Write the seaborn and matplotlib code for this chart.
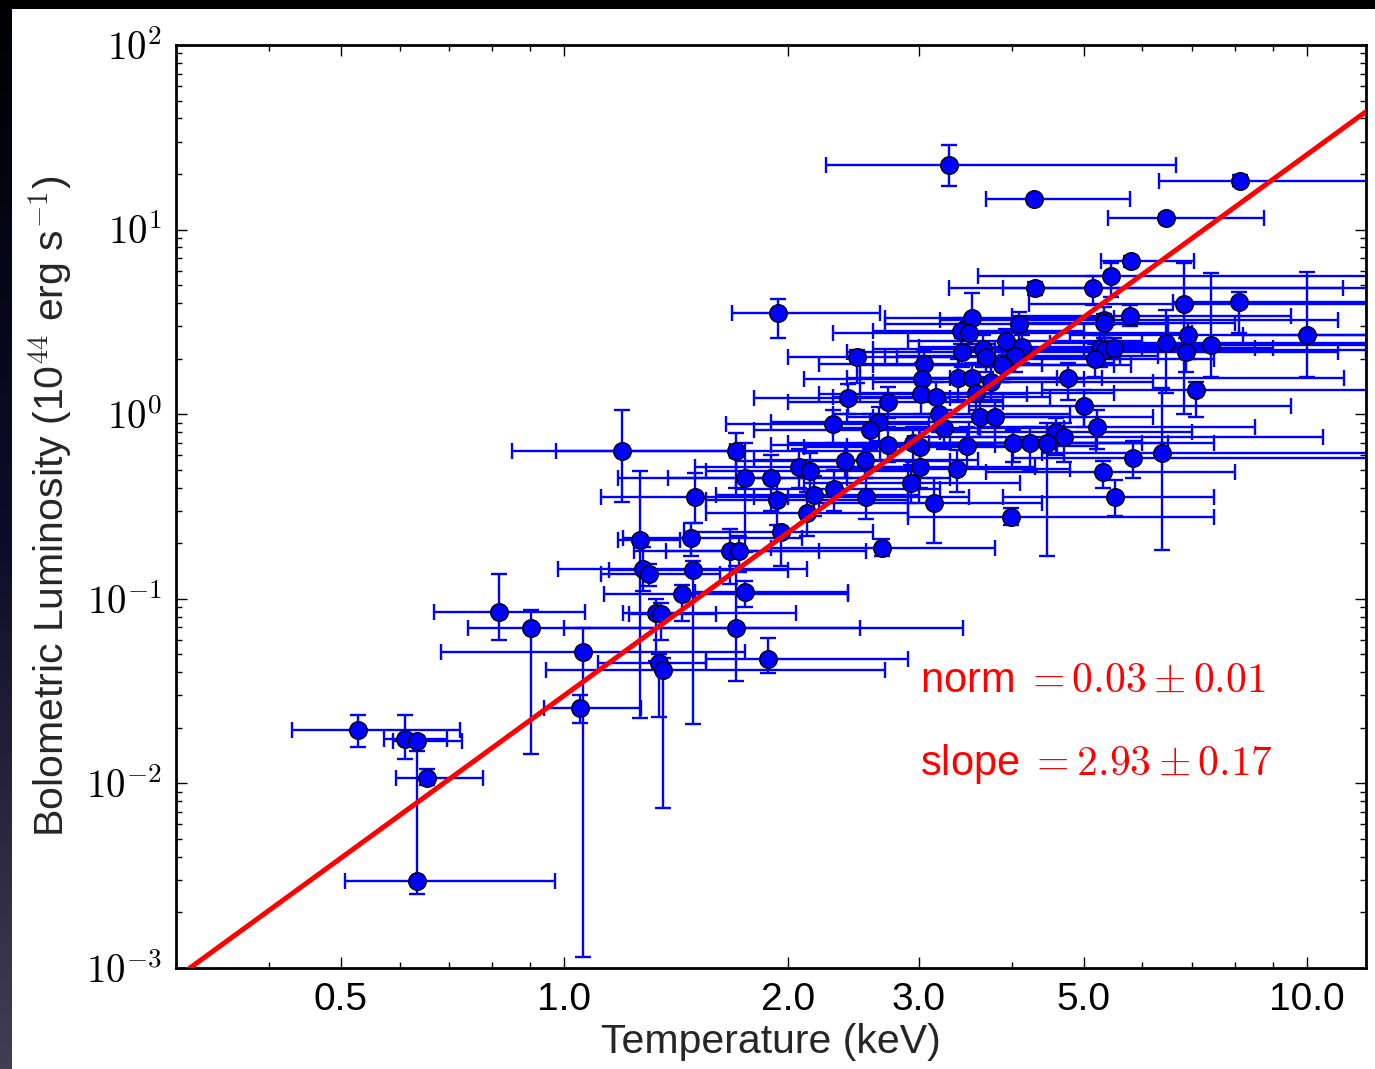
import numpy as np
import pandas as pd
import matplotlib
matplotlib.use("Agg")
import matplotlib.pyplot as plt
import seaborn as sns
from matplotlib.patches import Rectangle
from matplotlib.ticker import FixedLocator, FixedFormatter, NullFormatter, LogLocator

# ---------------- data ----------------
# temperature (keV) with lower / upper bounds
T = [0.528, 0.611, 0.634, 0.653, 0.634, 0.816, 0.901, 1.058, 1.048,
     1.194, 1.703, 1.265, 1.48, 1.50, 1.275, 1.30, 1.49, 1.44, 1.33, 1.35, 1.34, 1.357,
     1.75, 1.90, 1.93, 1.96, 1.67, 1.72, 1.75, 1.70, 1.88, 1.94,
     3.29, 8.11, 4.29, 6.45, 5.80, 5.44, 4.30, 5.15, 6.83, 8.10, 3.54, 5.78, 5.32, 5.33,
     4.09, 3.42, 3.51, 3.93, 4.13, 4.04, 3.89, 6.45, 6.92, 6.86, 7.43, 10.0, 5.26, 5.35,
     5.50, 5.18, 4.77, 7.09, 5.00, 5.22, 4.59, 4.71, 4.02, 4.23, 4.47, 5.82, 6.38, 5.31,
     5.51, 3.99,
     2.48, 3.43, 3.66, 3.70, 3.88, 3.05, 3.03, 3.39, 3.54, 3.75, 3.02, 3.16, 2.41, 2.73,
     3.19, 3.58, 3.63, 3.80, 3.24, 2.30, 2.65, 2.58, 2.73, 2.95, 3.01, 3.48, 2.39, 2.54,
     2.07, 2.14, 2.17, 2.31, 2.55, 2.93, 3.01, 3.38, 3.14, 2.12, 2.68]
T_lo = [0.43, 0.572, 0.588, 0.594, 0.506, 0.667, 0.742, 0.683, 0.938,
        0.849, 0.975, 1.18, 1.20, 1.12, 0.98, 1.12, 1.15, 1.13, 1.20, 1.22, 1.11, 0.945,
        1.18, 1.38, 1.55, 1.45, 1.24, 1.37, 1.50, 1.00, 1.55, 1.68,
        2.25, 6.31, 3.69, 5.40, 5.27, 3.60, 3.29, 3.89, 4.22, 6.60, 2.70, 4.00, 3.20, 4.20,
        2.70, 2.60, 2.30, 2.90, 3.00, 2.80, 2.60, 4.50, 4.80, 5.00, 5.50, 8.20, 3.50, 3.80,
        4.00, 3.60, 3.30, 4.40, 3.50, 3.60, 3.20, 3.00, 2.90, 3.10, 3.30, 4.00, 4.40, 3.70,
        3.90, 2.90,
        2.00, 2.40, 2.60, 2.70, 2.50, 2.20, 2.10, 2.40, 2.50, 2.60, 2.20, 2.30, 1.80, 2.00,
        2.30, 2.50, 2.40, 2.60, 2.30, 1.65, 1.90, 1.80, 1.90, 2.00, 2.10, 2.40, 1.70, 1.80,
        1.50, 1.55, 1.60, 1.70, 1.80, 2.10, 2.10, 2.40, 2.20, 1.55, 1.90]
T_hi = [0.724, 0.695, 0.728, 0.777, 0.972, 1.065, 3.44, 1.75, 1.27,
        1.67, 2.66, 1.43, 2.09, 2.00, 2.12, 1.62, 2.00, 2.41, 2.05, 1.60, 1.55, 2.70,
        2.40, 3.30, 2.90, 2.60, 2.55, 2.20, 2.41, 2.50, 2.90, 2.66,
        6.66, 14.0, 5.78, 8.74, 7.03, 14.0, 11.16, 14.0, 14.0, 14.0, 5.50, 9.50, 11.0, 8.00,
        6.50, 5.00, 7.00, 6.00, 7.50, 6.30, 5.50, 14.0, 14.0, 11.0, 14.0, 14.0, 9.00, 12.0,
        8.50, 7.50, 11.2, 14.0, 9.50, 8.50, 7.00, 10.5, 6.00, 6.50, 7.50, 14.0, 14.0, 8.00,
        7.50, 7.50,
        3.40, 5.20, 6.00, 5.60, 5.80, 4.40, 5.00, 4.60, 5.30, 6.20, 4.20, 4.50, 3.30, 3.90,
        4.80, 5.50, 5.00, 6.20, 4.70, 3.10, 3.60, 3.50, 3.80, 4.20, 4.60, 5.20, 3.30, 3.60,
        2.90, 3.00, 3.00, 3.20, 3.50, 4.10, 4.30, 4.80, 4.40, 2.90, 3.80]
# bolometric luminosity (1e44 erg/s) with lower / upper bounds
L = [0.0195, 0.0175, 0.0170, 0.0107, 0.00296, 0.0851, 0.0697, 0.0517, 0.0255,
     0.634, 0.634, 0.208, 0.213, 0.355, 0.145, 0.136, 0.143, 0.106, 0.084, 0.083, 0.045, 0.041,
     0.45, 0.45, 0.343, 0.229, 0.182, 0.182, 0.109, 0.0697, 0.0472, 3.52,
     22.4, 18.4, 14.6, 11.6, 6.76, 5.61, 4.81, 4.81, 3.95, 4.04, 3.31, 3.42, 3.24, 3.10,
     3.08, 2.82, 2.74, 2.49, 2.30, 2.07, 1.85, 2.42, 2.69, 2.17, 2.36, 2.68, 2.27, 2.23,
     2.27, 1.98, 1.565, 1.35, 1.108, 0.849, 0.804, 0.755, 0.696, 0.696, 0.700, 0.577, 0.619, 0.484,
     0.355, 0.276,
     2.05, 2.16, 2.25, 2.05, 1.85, 1.86, 1.55, 1.565, 1.58, 1.50, 1.28, 1.24, 1.22, 1.16,
     1.00, 1.31, 0.97, 0.96, 0.84, 0.885, 0.907, 0.821, 0.681, 0.696, 0.667, 0.675, 0.558, 0.565,
     0.52, 0.49, 0.365, 0.393, 0.355, 0.422, 0.52, 0.505, 0.329, 0.293, 0.189]
L_lo = [0.0157, 0.0135, 0.0160, 0.0098, 0.00252, 0.0598, 0.0144, 0.00114, 0.0213,
        0.336, 0.40, 0.0226, 0.171, 0.258, 0.11, 0.118, 0.021, 0.0755, 0.046, 0.060, 0.0229, 0.00736,
        0.18, 0.30, 0.25, 0.15, 0.12, 0.14, 0.09, 0.036, 0.0395, 2.6,
        17.3, 17.2, 14.0, 11.0, 6.3, 4.33, 4.4, 3.9, 1.0, 2.75, 2.4, 3.0, 2.7, 2.6,
        2.5, 2.4, 2.2, 2.1, 1.9, 1.7, 1.5, 1.30, 2.0, 1.7, 1.6, 1.6, 1.8, 1.9,
        2.0, 1.6, 1.2, 0.97, 0.85, 0.65, 0.60, 0.55, 0.55, 0.50, 0.17, 0.45, 0.184, 0.40,
        0.28, 0.25,
        1.47, 1.8, 1.8, 1.7, 1.5, 1.5, 1.25, 1.2, 1.3, 1.2, 1.0, 1.0, 1.0, 0.95,
        0.80, 1.05, 0.75, 0.75, 0.65, 0.70, 0.72, 0.65, 0.55, 0.55, 0.50, 0.52, 0.45, 0.45,
        0.40, 0.38, 0.28, 0.30, 0.27, 0.33, 0.40, 0.38, 0.20, 0.22, 0.17]
L_hi = [0.0234, 0.0234, 0.0180, 0.0119, 0.0150, 0.136, 0.0870, 0.0699, 0.0301,
        1.05, 0.788, 0.49, 0.258, 0.482, 0.19, 0.155, 0.16, 0.119, 0.10, 0.095, 0.05, 0.048,
        0.70, 0.60, 0.45, 0.246, 0.24, 0.22, 0.125, 0.15, 0.061, 4.2,
        28.7, 19.8, 15.2, 12.2, 7.2, 6.56, 5.2, 5.6, 6.6, 4.57, 4.52, 3.9, 3.8, 3.5,
        3.6, 3.3, 3.2, 2.9, 2.7, 2.5, 2.2, 3.66, 3.1, 2.6, 5.8, 5.9, 2.7, 2.6,
        2.6, 2.4, 1.9, 1.5, 1.35, 1.05, 0.95, 0.90, 0.82, 0.85, 0.90, 0.72, 1.39, 0.56,
        0.44, 0.31,
        2.22, 2.6, 2.7, 2.4, 2.3, 2.2, 1.9, 2.0, 1.9, 1.8, 1.55, 1.5, 1.45, 1.4,
        1.2, 1.6, 1.2, 1.2, 1.05, 1.05, 1.1, 1.0, 0.85, 0.85, 0.85, 0.85, 0.68, 0.70,
        0.65, 0.62, 0.46, 0.50, 0.45, 0.53, 0.65, 0.64, 0.45, 0.38, 0.21]

fit_norm = 0.03
fit_slope = 2.93

x_ticks = [0.5, 1.0, 2.0, 3.0, 5.0, 10.0]
x_tick_labels = ["0.5", "1.0", "2.0", "3.0", "5.0", "10.0"]
y_ticks = [1e-3, 1e-2, 1e-1, 1e0, 1e1, 1e2]
y_tick_labels = [r"$10^{-3}$", r"$10^{-2}$", r"$10^{-1}$", r"$10^{0}$", r"$10^{1}$", r"$10^{2}$"]

x_label = "Temperature (keV)"
y_label = r"Bolometric Luminosity (10$^{44}$ erg s$^{-1}$)"
norm_text = r"norm$\;= 0.03 \pm 0.01$"
slope_text = r"slope$\;= 2.93 \pm 0.17$"

# ---------------- style ----------------
sns.set_style("ticks")
plt.rcParams["font.family"] = ["Liberation Sans", "DejaVu Sans"]
plt.rcParams["mathtext.fontset"] = "cm"
plt.rcParams["axes.unicode_minus"] = True

W, H = 1375, 1069
fig = plt.figure(figsize=(W / 100, H / 100), dpi=100, facecolor="black")

# background: white slide panel and dark left strip
ax_bg = fig.add_axes([0, 0, 1, 1], zorder=-10)
ax_bg.set_axis_off()
ax_bg.add_patch(Rectangle((12, 0), W - 12, H - 9, facecolor="white", edgecolor="none"))
n = 256
cols = np.zeros((n, 1, 3))
top_c = np.array([0.0, 0.0, 0.02])
mid_c = np.array([0.05, 0.05, 0.16])
bot_c = np.array([0.26, 0.24, 0.32])
for i in range(n):
    t = i / (n - 1)
    if t < 0.5:
        cols[i, 0] = top_c + (mid_c - top_c) * (t / 0.5)
    else:
        cols[i, 0] = mid_c + (bot_c - mid_c) * ((t - 0.5) / 0.5)
ax_bg.imshow(cols, aspect="auto", extent=[0, 12, 0, H - 9], origin="upper")
ax_bg.set_xlim(0, W)
ax_bg.set_ylim(0, H)

ax = fig.add_axes([176 / W, 1 - 968 / H, 1190 / W, 923 / H])
ax.set_facecolor("white")
ax.set_xscale("log")
ax.set_yscale("log")
ax.set_xlim(0.3, 12.0)
ax.set_ylim(1e-3, 1e2)

Ta = np.array(T); La = np.array(L)
xerr = [Ta - np.array(T_lo), np.array(T_hi) - Ta]
yerr = [La - np.array(L_lo), np.array(L_hi) - La]

ax.errorbar(Ta, La, xerr=xerr, yerr=yerr, fmt="none", ecolor="#0000ff",
            elinewidth=1.7, capsize=6, capthick=1.7, zorder=2)

df = pd.DataFrame({"T": T, "L": L})
sns.scatterplot(data=df, x="T", y="L", ax=ax, s=160, color="#0000ff",
                edgecolor="black", linewidth=1.0, zorder=3, legend=False)

xl = ax.get_xlim()
fit_T = np.array([xl[0], xl[1]])
fit_df = pd.DataFrame({"T": fit_T, "L": fit_norm * fit_T ** fit_slope})
sns.lineplot(data=fit_df, x="T", y="L", ax=ax, color="red", linewidth=3.6,
             zorder=4, legend=False)
ax.set_xlim(0.3, 12.0)
ax.set_ylim(1e-3, 1e2)

# ticks
ax.xaxis.set_major_locator(FixedLocator(x_ticks))
ax.xaxis.set_major_formatter(FixedFormatter(x_tick_labels))
ax.xaxis.set_minor_locator(LogLocator(base=10, subs=np.arange(2, 10), numticks=20))
ax.xaxis.set_minor_formatter(NullFormatter())
ax.yaxis.set_major_locator(FixedLocator(y_ticks))
ax.yaxis.set_major_formatter(FixedFormatter(y_tick_labels))
ax.yaxis.set_minor_locator(LogLocator(base=10, subs=np.arange(2, 10), numticks=20))
ax.yaxis.set_minor_formatter(NullFormatter())

ax.tick_params(which="both", direction="in", top=True, right=True, colors="black")
ax.tick_params(which="major", length=8, width=1.0, labelsize=28, pad=10)
ax.tick_params(which="minor", length=4, width=1.0)
for sp in ax.spines.values():
    sp.set_linewidth(2.0)
    sp.set_color("black")
    sp.set_visible(True)

ax.set_xlabel(x_label, fontsize=29.5, labelpad=4)
ax.set_ylabel(y_label, fontsize=29.5, labelpad=8)

ax.text(0.625, 0.299, norm_text, transform=ax.transAxes, color="red", fontsize=30, va="baseline")
ax.text(0.625, 0.209, slope_text, transform=ax.transAxes, color="red", fontsize=30, va="baseline")

fig.savefig("out.png", dpi=100, facecolor=fig.get_facecolor())
